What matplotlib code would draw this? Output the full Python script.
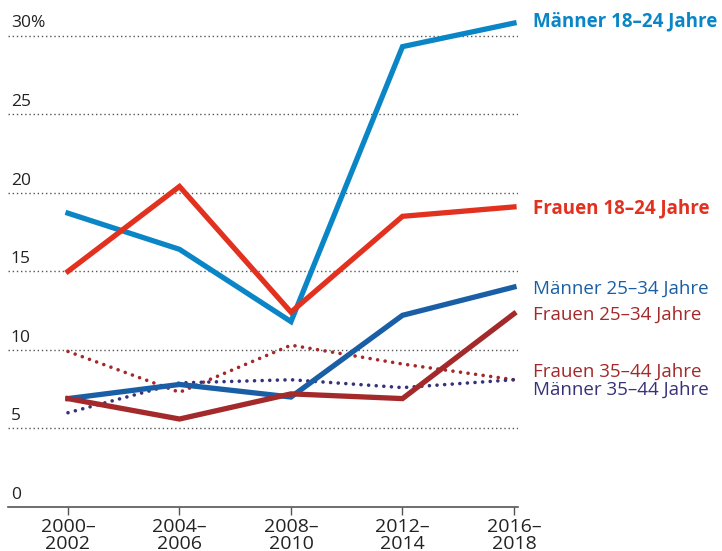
import matplotlib
matplotlib.use("Agg")
import matplotlib.pyplot as plt

plt.rcParams['font.family'] = ['Open Sans', 'DejaVu Sans']

periods = ["2000–\n2002", "2004–\n2006", "2008–\n2010", "2012–\n2014", "2016–\n2018"]
maenner_18_24 = [18.7, 16.4, 11.8, 29.3, 30.8]
frauen_18_24 = [15.0, 20.4, 12.4, 18.5, 19.1]
maenner_25_34 = [6.9, 7.8, 7.0, 12.2, 14.0]
frauen_25_34 = [6.9, 5.6, 7.2, 6.9, 12.3]
frauen_35_44 = [9.9, 7.3, 10.3, 9.1, 8.1]
maenner_35_44 = [6.0, 7.9, 8.1, 7.6, 8.1]
yticks = [0, 5, 10, 15, 20, 25, 30]
ytick_labels = ["0", "5", "10", "15", "20", "25", "30%"]

series = [
    ("Männer 18–24 Jahre", maenner_18_24, "#0a86c6", "solid", "bold", 1),
    ("Frauen 18–24 Jahre", frauen_18_24, "#e2311f", "solid", "bold", -1),
    ("Männer 25–34 Jahre", maenner_25_34, "#1a5fa6", "solid", "normal", -1),
    ("Frauen 25–34 Jahre", frauen_25_34, "#a3292a", "solid", "normal", -0.5),
    ("Frauen 35–44 Jahre", frauen_35_44, "#a3292a", "dotted", "normal", 5.5),
    ("Männer 35–44 Jahre", maenner_35_44, "#36327a", "dotted", "normal", -7),
]

fig = plt.figure(figsize=(7.22, 5.51), dpi=100)
ax = fig.add_axes([8/722, 44/551, 510/722, 502/551])
x = list(range(len(periods)))

for name, vals, color, style, weight, dy in series:
    if style == "solid":
        ax.plot(x, vals, color=color, lw=3.8, solid_joinstyle="miter", zorder=3)
    else:
        ax.plot(x, vals, color=color, lw=2.6, linestyle=(0, (0.01, 2.1)),
                dash_capstyle="round", zorder=2)
    ax.annotate(name, xy=(x[-1], vals[-1]), xytext=(14, dy), textcoords="offset points",
                color=color, fontsize=13.5, fontweight=weight, va="center", ha="left",
                annotation_clip=False)

ax.set_xlim(-0.538, 4.036)
ax.set_ylim(0, 31.95)
for yv, lab in zip(yticks, ytick_labels):
    if yv > 0:
        ax.axhline(yv, color="#555555", lw=1.0, linestyle=(0, (1, 2)), zorder=1)
    ax.annotate(lab, xy=(-0.538, yv), xytext=(2, 3), textcoords="offset points",
                fontsize=12.5, color="#222222", va="bottom", ha="left")

ax.set_yticks([])
ax.set_xticks(x)
ax.set_xticklabels(periods, fontsize=14, color="#222222", linespacing=0.9)
ax.tick_params(axis="x", length=6, width=1, color="#555555", pad=2)
for s in ["top", "right", "left"]:
    ax.spines[s].set_visible(False)
ax.spines["bottom"].set_color("#555555")
ax.spines["bottom"].set_linewidth(1.2)

fig.savefig("out.png", dpi=100)
